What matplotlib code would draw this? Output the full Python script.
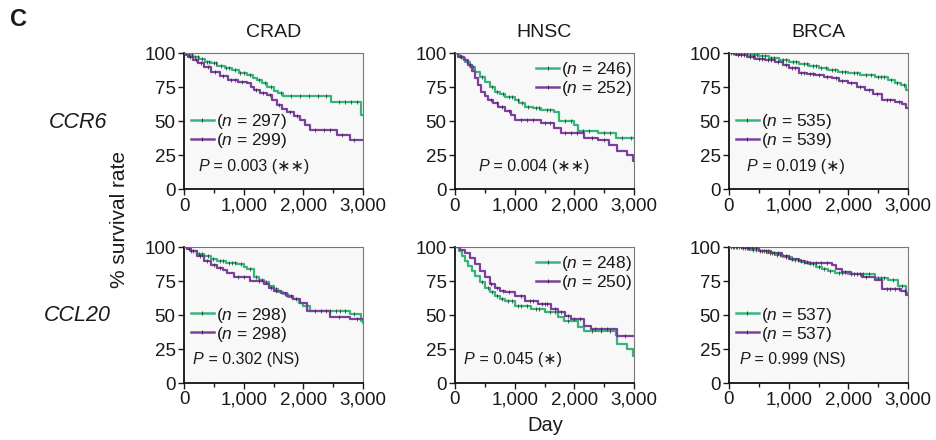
import numpy as np
import matplotlib
matplotlib.use("Agg")
import matplotlib.pyplot as plt
from matplotlib.lines import Line2D
from matplotlib.ticker import MultipleLocator

plt.rcParams['font.family'] = ['Liberation Sans', 'DejaVu Sans']
plt.rcParams['mathtext.fontset'] = 'custom'
plt.rcParams['mathtext.rm'] = 'Liberation Sans'
plt.rcParams['mathtext.it'] = 'Liberation Sans:italic'

cancers = ["CRAD", "HNSC", "BRCA"]
genes = ["CCR6", "CCL20"]

# ---- CCR6 row ----
crad_ccr6_g_t = [0, 60, 150, 250, 350, 450, 560, 680, 800, 920, 1063, 1150, 1229, 1310, 1395, 1505, 1580, 1660, 2457, 2972, 3000]
crad_ccr6_g_s = [100, 99, 97.5, 96, 94, 92.7, 91, 89, 87.5, 86, 84, 82, 80.5, 78, 75.6, 72.4, 71, 68.8, 64.6, 55, 55]
crad_ccr6_g_c = [90, 130, 180, 240, 300, 380, 420, 500, 540, 620, 700, 760, 850, 940, 1000, 1100, 1250, 1350, 1450, 1620, 1800, 1950, 2100, 2250, 2380, 2600, 2700, 2800, 2900]
crad_ccr6_p_t = [0, 30, 66, 150, 232, 330, 454, 600, 730, 900, 1063, 1120, 1173, 1280, 1395, 1480, 1560, 1640, 1726, 1840, 1948, 2030, 2114, 2557, 2779, 3000]
crad_ccr6_p_s = [100, 99, 97.6, 95, 92.7, 90, 86.6, 83.5, 80.5, 79.3, 78, 75.5, 73, 71, 69.5, 66, 62, 59.5, 57.3, 54, 51.2, 47.5, 44, 40, 36.6, 36.6]
crad_ccr6_p_c = [100, 200, 280, 400, 520, 650, 780, 850, 980, 1200, 1330, 1440, 1600, 1780, 1900, 2200, 2350, 2450, 2650, 2850]

hnsc_ccr6_g_t = [0, 60, 110, 167, 250, 333, 420, 500, 580, 667, 750, 833, 1000, 1080, 1167, 1300, 1444, 1667, 1750, 2000, 2056, 2389, 2694, 3000]
hnsc_ccr6_g_s = [100, 98.5, 96.5, 94, 90, 86.6, 82.5, 79, 75.5, 72, 70, 68.3, 65.9, 63.5, 61, 60, 58.5, 57.3, 50, 47.6, 42.7, 41.5, 37.8, 37.8]
hnsc_ccr6_g_c = [80, 200, 300, 450, 620, 700, 800, 900, 950, 1050, 1120, 1230, 1350, 1400, 1550, 1600, 1850, 1950, 2150, 2250, 2500, 2600, 2800, 2950]
hnsc_ccr6_p_t = [0, 56, 150, 222, 280, 333, 390, 444, 500, 556, 640, 722, 830, 944, 1000, 1444, 1667, 1778, 2167, 2389, 2583, 2722, 2889, 2980, 3000]
hnsc_ccr6_p_s = [100, 97.6, 95, 91.5, 87, 81.7, 77, 72, 69, 66, 63.5, 61, 58, 55, 51.2, 48.8, 45, 41.5, 37.8, 36.6, 33, 28, 25.6, 20.7, 20.7]
hnsc_ccr6_p_c = [100, 250, 600, 700, 780, 900, 1100, 1200, 1300, 1500, 1600, 1850, 1950, 2050, 2300, 2500]

brca_ccr6_g_t = [0, 333, 500, 667, 830, 1000, 1170, 1333, 1500, 1667, 1830, 2000, 2200, 2444, 2667, 2780, 2889, 2972, 3000]
brca_ccr6_g_s = [100, 99, 98, 97, 95.5, 94, 92, 90.5, 89, 88, 86.5, 85.5, 84, 83, 80.5, 78.5, 76.8, 73, 73]
brca_ccr6_g_c = [40, 80, 120, 160, 200, 250, 300, 360, 420, 470, 550, 600, 700, 760, 900, 950, 1080, 1120, 1250, 1300, 1400, 1450, 1550, 1620, 1720, 1780, 1900, 1950, 2100, 2150, 2300, 2380, 2500, 2550, 2600, 2720, 2820, 2930]
brca_ccr6_p_t = [0, 111, 300, 444, 600, 778, 900, 1000, 1167, 1300, 1444, 1600, 1722, 1850, 2000, 2150, 2278, 2420, 2556, 2778, 2900, 2972, 3000]
brca_ccr6_p_s = [100, 99, 97.5, 96, 95, 94, 91.5, 89, 86, 85, 84, 83, 81.7, 80, 78, 75.5, 73, 70, 66, 64.6, 62.5, 60, 60]
brca_ccr6_p_c = [60, 150, 200, 250, 350, 400, 500, 550, 650, 700, 820, 950, 1050, 1100, 1200, 1250, 1350, 1400, 1500, 1650, 1800, 1900, 2050, 2200, 2350, 2480, 2650, 2700, 2850]

# ---- CCL20 row ----
crad_ccl20_g_t = [0, 50, 111, 220, 333, 450, 556, 700, 889, 1000, 1056, 1167, 1250, 1333, 1420, 1500, 1580, 1667, 1750, 1833, 1920, 2000, 2111, 2778, 2972, 3000]
crad_ccl20_g_s = [100, 98.5, 97, 95, 93.4, 91.5, 89.8, 88.5, 87.3, 85.5, 83.7, 77.6, 76, 74, 71.5, 69, 67, 65.4, 63.5, 61.7, 59, 56.8, 53.2, 50.7, 45.9, 44]
crad_ccl20_g_c = [80, 150, 250, 300, 400, 480, 600, 650, 750, 800, 850, 950, 1100, 1200, 1300, 1380, 1550, 1700, 1880, 2300, 2380, 2450, 2550, 2620, 2700, 2850]
crad_ccl20_p_t = [0, 50, 111, 220, 333, 450, 556, 650, 722, 833, 1111, 1333, 1420, 1500, 1620, 1722, 1830, 1944, 2056, 2444, 2778, 3000]
crad_ccl20_p_s = [100, 98.5, 97, 93.5, 89.8, 87, 84.9, 83, 81.2, 77.6, 75, 72.7, 70, 67.8, 66, 64, 61.5, 59, 53.2, 48.3, 47, 47]
crad_ccl20_p_c = [120, 260, 380, 500, 600, 900, 1000, 1250, 1450, 1550, 1800, 2200, 2600, 2900]

hnsc_ccl20_g_t = [0, 60, 110, 167, 220, 280, 333, 420, 500, 580, 667, 750, 833, 1000, 1278, 1500, 1722, 1833, 2056, 2167, 2694, 2722, 2889, 2990, 3000]
hnsc_ccl20_g_s = [100, 97, 93.5, 89.8, 86, 82.5, 78.8, 74, 70, 67, 64, 62, 60.5, 56.8, 54.4, 52, 48.3, 45.9, 41, 38.5, 35, 28.8, 25, 20, 20]
hnsc_ccl20_g_c = [450, 550, 620, 700, 780, 880, 950, 1050, 1100, 1200, 1350, 1400, 1600, 1680, 1900, 2300, 2450, 2600]
hnsc_ccl20_p_t = [0, 80, 167, 250, 333, 420, 500, 580, 667, 750, 833, 1000, 1167, 1389, 1611, 1722, 1850, 1944, 2167, 2278, 2722, 3000]
hnsc_ccl20_p_s = [100, 98, 95.8, 92, 87.3, 82, 77.6, 73, 70, 68, 66.6, 64, 60.5, 58, 54.4, 52, 49, 47, 42, 39.8, 34.5, 34.5]
hnsc_ccl20_p_c = [600, 700, 800, 900, 1100, 1250, 1300, 1450, 1500, 1550, 1680, 1780, 1900, 2000, 2100, 2350, 2450, 2550, 2850]

brca_ccl20_g_t = [0, 222, 360, 500, 640, 778, 900, 1056, 1200, 1333, 1450, 1556, 1660, 1778, 2000, 2444, 2667, 2833, 2972, 3000]
brca_ccl20_g_s = [100, 99.3, 98, 96.8, 95.5, 94.4, 92.8, 90.8, 89, 87.2, 85.5, 83.5, 82, 81, 79.8, 77.4, 76, 71.4, 66.5, 66.5]
brca_ccl20_g_c = [40, 80, 120, 170, 200, 260, 300, 340, 400, 450, 520, 580, 620, 680, 720, 800, 850, 950, 1000, 1100, 1150, 1250, 1300, 1400, 1500, 1600, 1700, 1850, 1900, 2050, 2100, 2200, 2250, 2350, 2500, 2550, 2600, 2750, 2900]
brca_ccl20_p_t = [0, 222, 500, 700, 889, 1000, 1167, 1278, 1722, 1800, 1889, 2050, 2222, 2444, 2556, 2889, 2972, 3000]
brca_ccl20_p_s = [100, 99.3, 97.3, 95.5, 93.2, 91.5, 89.6, 88.3, 86.6, 84, 81.7, 80, 78, 75.6, 68.8, 68, 65, 65]
brca_ccl20_p_c = [60, 140, 240, 320, 380, 460, 560, 650, 760, 820, 950, 1050, 1200, 1350, 1450, 1550, 1650, 1950, 2150, 2300, 2650, 2700, 2780, 2850, 2950]

n_labels = {
    ("CCR6", "CRAD"): (297, 299), ("CCR6", "HNSC"): (246, 252), ("CCR6", "BRCA"): (535, 539),
    ("CCL20", "CRAD"): (298, 298), ("CCL20", "HNSC"): (248, 250), ("CCL20", "BRCA"): (537, 537),
}
p_labels = {
    ("CCR6", "CRAD"): "0.003 (\u2217\u2217)", ("CCR6", "HNSC"): "0.004 (\u2217\u2217)", ("CCR6", "BRCA"): "0.019 (\u2217)",
    ("CCL20", "CRAD"): "0.302 (NS)", ("CCL20", "HNSC"): "0.045 (\u2217)", ("CCL20", "BRCA"): "0.999 (NS)",
}

curves = {
    ("CCR6", "CRAD"): (crad_ccr6_g_t, crad_ccr6_g_s, crad_ccr6_g_c, crad_ccr6_p_t, crad_ccr6_p_s, crad_ccr6_p_c),
    ("CCR6", "HNSC"): (hnsc_ccr6_g_t, hnsc_ccr6_g_s, hnsc_ccr6_g_c, hnsc_ccr6_p_t, hnsc_ccr6_p_s, hnsc_ccr6_p_c),
    ("CCR6", "BRCA"): (brca_ccr6_g_t, brca_ccr6_g_s, brca_ccr6_g_c, brca_ccr6_p_t, brca_ccr6_p_s, brca_ccr6_p_c),
    ("CCL20", "CRAD"): (crad_ccl20_g_t, crad_ccl20_g_s, crad_ccl20_g_c, crad_ccl20_p_t, crad_ccl20_p_s, crad_ccl20_p_c),
    ("CCL20", "HNSC"): (hnsc_ccl20_g_t, hnsc_ccl20_g_s, hnsc_ccl20_g_c, hnsc_ccl20_p_t, hnsc_ccl20_p_s, hnsc_ccl20_p_c),
    ("CCL20", "BRCA"): (brca_ccl20_g_t, brca_ccl20_g_s, brca_ccl20_g_c, brca_ccl20_p_t, brca_ccl20_p_s, brca_ccl20_p_c),
}

GREEN = "#36b57a"
PURPLE = "#7b3f9e"
CENS = "#2a2a2a"
TXT = "#1a1a1a"
FAM = ['Liberation Sans', 'DejaVu Sans']

fig = plt.figure(figsize=(9.36, 4.4), dpi=100)

lefts = [184 / 936, 455 / 936, 729 / 936]
bottoms = [1 - 189.5 / 440, 1 - 383 / 440]
W = 179 / 936
H = 136 / 440

legend_pos = {"CRAD": ("center left", (0.0, 0.43)), "HNSC": ("upper right", (1.03, 1.0)),
              "BRCA": ("center left", (0.0, 0.43))}
p_x = {("CCR6", "CRAD"): 0.08, ("CCR6", "HNSC"): 0.13, ("CCR6", "BRCA"): 0.10,
       ("CCL20", "CRAD"): 0.05, ("CCL20", "HNSC"): 0.05, ("CCL20", "BRCA"): 0.06}


def step_value(t, s, x):
    idx = np.searchsorted(np.asarray(t), x, side='right') - 1
    return np.asarray(s)[idx]


for r, gene in enumerate(genes):
    for c, cancer in enumerate(cancers):
        ax = fig.add_axes([lefts[c], bottoms[r], W, H])
        ax.set_facecolor("#f8f8f8")
        gt, gs, gc, pt, ps, pc = curves[(gene, cancer)]
        ax.step(gt, gs, where='post', color=GREEN, lw=1.6, zorder=3)
        ax.step(pt, ps, where='post', color=PURPLE, lw=1.6, zorder=3)
        ax.plot(gc, step_value(gt, gs, gc), ls='none', marker='|', ms=2.4, mew=0.6, color=CENS, alpha=0.85, zorder=4)
        ax.plot(pc, step_value(pt, ps, pc), ls='none', marker='|', ms=2.4, mew=0.6, color=CENS, alpha=0.85, zorder=4)
        ax.set_xlim(0, 3000)
        ax.set_ylim(0, 100)
        ax.xaxis.set_major_locator(MultipleLocator(1000))
        ax.xaxis.set_minor_locator(MultipleLocator(500))
        ax.yaxis.set_major_locator(MultipleLocator(25))
        ax.set_xticklabels([f"{int(v):,}" for v in ax.get_xticks()])
        ax.tick_params(axis='both', which='major', direction='out', length=4, width=1, labelsize=13.5,
                       colors=TXT, pad=2)
        ax.tick_params(axis='x', which='minor', direction='out', length=3, width=1, colors=TXT)
        for sp in ["left", "bottom"]:
            ax.spines[sp].set_color("#111111")
            ax.spines[sp].set_linewidth(1.3)
        for sp in ["top", "right"]:
            ax.spines[sp].set_color("#777777")
            ax.spines[sp].set_linewidth(0.8)

        n1, n2 = n_labels[(gene, cancer)]
        handles = [Line2D([], [], color=GREEN, lw=1.8, marker='|', ms=3, mec=CENS, mew=0.6),
                   Line2D([], [], color=PURPLE, lw=1.8, marker='|', ms=3, mec=CENS, mew=0.6)]
        loc, anchor = legend_pos[cancer]
        ax.legend(handles, [f"($n$ = {n1})", f"($n$ = {n2})"], loc=loc, bbox_to_anchor=anchor,
                  frameon=False, fontsize=12.5, handlelength=1.3, handletextpad=0.15,
                  labelspacing=0.0, borderaxespad=0.2, borderpad=0.2, labelcolor=TXT)
        tp = ax.text(p_x[(gene, cancer)], 0.115, "P", style='italic', transform=ax.transAxes,
                     fontsize=11.5, color=TXT, va='bottom', ha='left')
        ax.annotate(f" = {p_labels[(gene, cancer)]}", xy=(1, 0), xycoords=tp, va='bottom', ha='left',
                    fontsize=11.5, color=TXT, family=FAM)
        if r == 0:
            ax.set_title(cancer, fontsize=14, color=TXT, pad=12)

fig.text(10 / 936, 1 - 19 / 440, "C", fontsize=17, fontweight='bold', color=TXT, ha='left', va='center')
fig.text(78 / 936, 1 - 122 / 440, "CCR6", fontsize=15.5, style='italic', color=TXT, ha='center', va='center')
fig.text(77 / 936, 1 - 315 / 440, "CCL20", fontsize=15.5, style='italic', color=TXT, ha='center', va='center')
fig.text(120 / 936, 1 - 220 / 440, "% survival rate", fontsize=15, rotation=90, color=TXT,
         ha='center', va='center')
fig.text(545 / 936, 1 - 425 / 440, "Day", fontsize=14.5, color=TXT, ha='center', va='center')

fig.savefig("out.png", dpi=100)
